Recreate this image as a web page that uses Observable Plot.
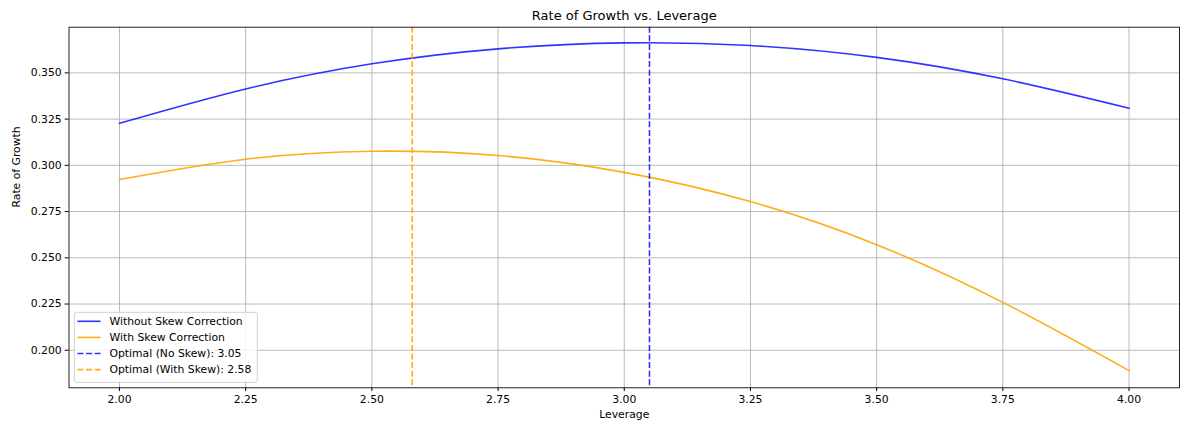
<!DOCTYPE html>
<html>
<head>
<meta charset="utf-8">
<script src="https://cdn.jsdelivr.net/npm/d3@7"></script>
<script src="https://cdn.jsdelivr.net/npm/@observablehq/plot@0.6"></script>
<style>
  html, body { margin: 0; padding: 0; background: #fff; }
  #wrap { position: relative; width: 1192px; height: 427px; }
  #legend { position: absolute; left: 0; top: 0; pointer-events: none; }
</style>
</head>
<body>
<div id="wrap"></div>
<script>
// ---- data ----
const leverage      = [2.00, 2.25, 2.50, 2.75, 3.00, 3.25, 3.50, 3.75, 4.00];
const growthNoSkew  = [0.3227, 0.3413, 0.3549, 0.3630, 0.3662, 0.3648, 0.3584, 0.3468, 0.3309];
const growthSkew    = [0.2923, 0.3033, 0.3076, 0.3053, 0.2962, 0.2804, 0.2571, 0.2259, 0.1890];
const optimalNoSkew = 3.05;
const optimalSkew   = 2.58;
const xTicks = [2.00, 2.25, 2.50, 2.75, 3.00, 3.25, 3.50, 3.75, 4.00];
const yTicks = [0.200, 0.225, 0.250, 0.275, 0.300, 0.325, 0.350];
const titleText = "Rate of Growth vs. Leverage";
const xLabel = "Leverage";
const yLabel = "Rate of Growth";
const legendLabels = [
  "Without Skew Correction",
  "With Skew Correction",
  "Optimal (No Skew): " + optimalNoSkew.toFixed(2),
  "Optimal (With Skew): " + optimalSkew.toFixed(2)
];
const legendColors = ["blue", "orange", "blue", "orange"];
const legendDashed = [false, false, true, true];

// ---- build tables ----
const noSkew = leverage.map((x, i) => ({x, y: growthNoSkew[i]}));
const skew = leverage.map((x, i) => ({x, y: growthSkew[i]}));

const FONT = "DejaVu Sans";
const FS = 10.8;
const LW = 1.62;
const DASH = "6,2.6";

const chart = Plot.plot({
  width: 1192,
  height: 427,
  marginLeft: 68.5,
  marginRight: 13,
  marginTop: 26.7,
  marginBottom: 39.7,
  style: {fontFamily: FONT, fontSize: FS + "px", color: "#000", background: "#fff", overflow: "visible"},
  x: {domain: [1.9, 4.1]},
  y: {domain: [0.1797, 0.3747]},
  marks: [
    Plot.gridX(xTicks, {stroke: "#b0b0b0", strokeOpacity: 1, strokeWidth: 0.86}),
    Plot.gridY(yTicks, {stroke: "#b0b0b0", strokeOpacity: 1, strokeWidth: 0.86}),
    Plot.line(noSkew, {x: "x", y: "y", stroke: "blue", strokeOpacity: 0.8, strokeWidth: LW, curve: "natural"}),
    Plot.line(skew, {x: "x", y: "y", stroke: "orange", strokeOpacity: 0.9, strokeWidth: LW, curve: "natural"}),
    Plot.ruleX([optimalNoSkew], {stroke: "blue", strokeOpacity: 0.8, strokeWidth: LW, strokeDasharray: DASH}),
    Plot.ruleX([optimalSkew], {stroke: "orange", strokeOpacity: 0.9, strokeWidth: LW, strokeDasharray: DASH}),
    Plot.frame({stroke: "#000", strokeWidth: 0.86}),
    Plot.axisX(xTicks, {tickFormat: ".2f", tickSize: 3.8, tickPadding: 3.5, label: null, stroke: "#000"}),
    Plot.axisY(yTicks, {tickFormat: ".3f", tickSize: 3.8, tickPadding: 3.5, label: null, stroke: "#000"}),
    Plot.text([xLabel], {frameAnchor: "bottom", lineAnchor: "bottom", dy: 30.5, fontSize: FS, fill: "#000"}),
    Plot.text([yLabel], {frameAnchor: "left", rotate: -90, lineAnchor: "top", dx: -57, fontSize: FS, fill: "#000"}),
    Plot.text([titleText], {frameAnchor: "top", lineAnchor: "bottom", dy: -7, fontSize: 13, fill: "#000"})
  ]
});

const wrap = document.getElementById("wrap");
wrap.appendChild(chart);

// ---- legend (matplotlib style, lower left) ----
const lg = d3.select(wrap).append("svg")
  .attr("id", "legend")
  .attr("width", 1192).attr("height", 427)
  .style("font-family", FONT).style("font-size", FS + "px");
lg.append("rect")
  .attr("x", 74.3).attr("y", 312.3).attr("width", 183).attr("height", 70)
  .attr("rx", 2.5).attr("fill", "#fff").attr("fill-opacity", 0.8)
  .attr("stroke", "#cccccc").attr("stroke-width", 0.9);
legendLabels.forEach((lab, i) => {
  const cy = 321.3 + i * 16.1;
  lg.append("line")
    .attr("x1", 77.5).attr("x2", 100.5).attr("y1", cy).attr("y2", cy)
    .attr("stroke", legendColors[i])
    .attr("stroke-opacity", legendColors[i] === "blue" ? 0.8 : 0.9)
    .attr("stroke-width", LW)
    .attr("stroke-dasharray", legendDashed[i] ? DASH : null);
  lg.append("text")
    .attr("x", 109.5).attr("y", cy).attr("dy", "0.35em")
    .attr("fill", "#000")
    .text(lab);
});
</script>
</body>
</html>
